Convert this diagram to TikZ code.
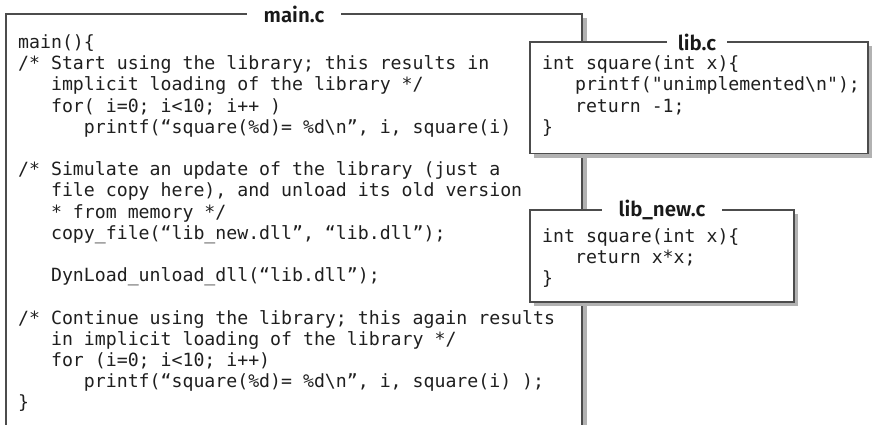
\documentclass[tikz,border=0pt]{standalone}
\usepackage{fontspec}
\setmonofont{DejaVu Sans Mono}
\newfontfamily\titlefont{Fira Sans SemiBold}
\newcommand\codefont{\ttfamily\fontsize{18.2}{21.2}\selectfont}
\newcommand\myind{\hphantom{xxx}}
\newcommand\codeline[5]{\node[codetxt] (#1) at (#2,{#3+5.5+#4*21.2}) {#5};}
\tikzset{
  codetxt/.style={anchor=base west, inner sep=0pt, font=\codefont, text=black!88},
  frame/.style={draw=black!70, line width=1.4pt},
  shadowfill/.style={fill=black!30},
  boxtitle/.style={fill=white, inner ysep=1pt, text=black!90, font=\titlefont\fontsize{20.5}{20.5}\selectfont},
}
\begin{document}
\begin{tikzpicture}[x=1pt,y=-1pt]
\useasboundingbox (0,0) rectangle (875,424);
% main.c box (open at bottom)
\fill[shadowfill] (582,18) rectangle (586.5,430);
\draw[frame] (6,430) -- (6,14) -- (582,14) -- (582,430);
\node[boxtitle, inner xsep=17pt] (tmain) at (294,14) {main.c};
\codeline{m0}{18}{43}{0}{main()\{}
\codeline{m1}{18}{43}{1}{/* Start using the library; this results in}
\codeline{m2}{18}{43}{2}{\myind implicit loading of the library */}
\codeline{m3}{18}{43}{3}{\myind for( i=0; i<10; i++ )}
\codeline{m4}{18}{43}{4}{\myind\myind printf(“square(\%d)= \%d\textbackslash n”, i, square(i)}
\codeline{m6}{18}{43}{6}{/* Simulate an update of the library (just a}
\codeline{m7}{18}{43}{7}{\myind file copy here), and unload its old version}
\codeline{m8}{18}{43}{8}{\myind * from memory */}
\codeline{m9}{18}{43}{9}{\myind copy\_file(“lib\_new.dll”, “lib.dll”);}
\codeline{m11}{18}{43}{11}{\myind DynLoad\_unload\_dll(“lib.dll”);}
\codeline{m13}{18}{43}{13}{/* Continue using the library; this again results}
\codeline{m14}{18}{43}{14}{\myind in implicit loading of the library */}
\codeline{m15}{18}{43}{15}{\myind for (i=0; i<10; i++)}
\codeline{m16}{18}{43}{16}{\myind\myind printf(“square(\%d)= \%d\textbackslash n”, i, square(i) );}
\codeline{m17}{18}{43}{17}{\}}
% lib.c box
\fill[shadowfill] (534,46) rectangle (872,157.5);
\draw[frame, fill=white] (530,42) rectangle (868,153.5);
\node[boxtitle, inner xsep=11pt] (tlib) at (697,42) {lib.c};
\codeline{l0}{542}{64.2}{0}{int square(int x)\{}
\codeline{l1}{542}{64.2}{1}{\myind printf("unimplemented\textbackslash n");}
\codeline{l2}{542}{64.2}{2}{\myind return -1;}
\codeline{l3}{542}{64.2}{3}{\}}
% lib_new.c box
\fill[shadowfill] (534,214) rectangle (798,306);
\draw[frame, fill=white] (530,210) rectangle (794,302);
\node[boxtitle, inner xsep=17pt] (tnew) at (662,210) {lib\_new.c};
\codeline{n0}{542}{237}{0}{int square(int x)\{}
\codeline{n1}{542}{237}{1}{\myind return x*x;}
\codeline{n2}{542}{237}{2}{\}}
\end{tikzpicture}
\end{document}
